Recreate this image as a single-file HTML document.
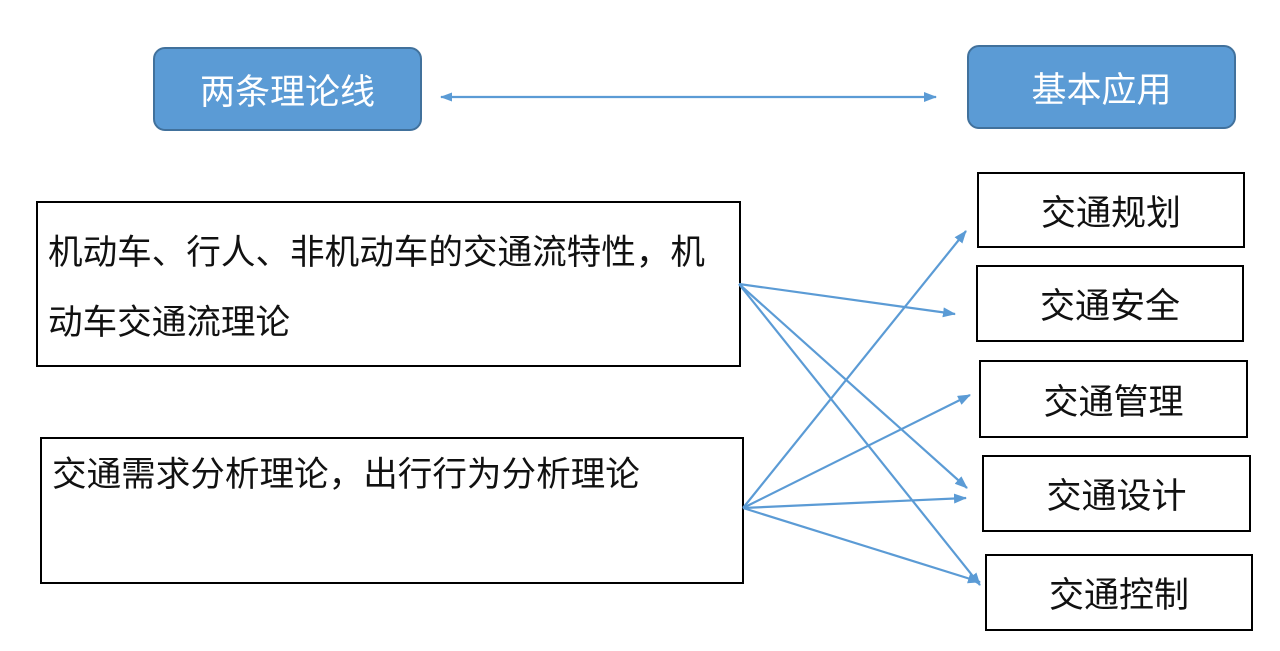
<!DOCTYPE html>
<html><head><meta charset="utf-8"><style>
body{margin:0;width:1280px;height:651px;background:#fff;position:relative;overflow:hidden;font-family:"Liberation Sans","Noto Sans CJK SC",sans-serif}
.b{position:absolute;box-sizing:border-box}
.blue{background:#5b9bd5;border:2px solid #41719c;border-radius:12px;color:#fff;font-size:35px;display:flex;align-items:center;justify-content:center}
.r{border:2px solid #000;font-size:35px;display:flex;align-items:center;justify-content:center;color:#111}
.l{border:2px solid #000;font-size:34.6px;color:#111;line-height:70px;padding:15px 0 0 10px}
</style></head><body>
<div class="b blue" style="left:153px;top:47px;width:269px;height:84px">两条理论线</div>
<div class="b blue" style="left:967px;top:45px;width:269px;height:84px">基本应用</div>
<div class="b l" style="left:36px;top:201px;width:705px;height:166px">机动车、行人、非机动车的交通流特性，机<br>动车交通流理论</div>
<div class="b l" style="left:40px;top:437px;width:704px;height:147px;line-height:72px;padding-top:0">交通需求分析理论，出行行为分析理论</div>
<div class="b r" style="left:977px;top:172px;width:268px;height:76px">交通规划</div>
<div class="b r" style="left:976px;top:265px;width:268px;height:77px">交通安全</div>
<div class="b r" style="left:979px;top:360px;width:269px;height:78px">交通管理</div>
<div class="b r" style="left:982px;top:455px;width:269px;height:77px">交通设计</div>
<div class="b r" style="left:985px;top:554px;width:268px;height:77px">交通控制</div>
<svg width="1280" height="651" style="position:absolute;left:0;top:0">
<defs><marker id="a" markerWidth="13" markerHeight="10" refX="12" refY="5" orient="auto" markerUnits="userSpaceOnUse"><path d="M0,0L13,5L0,10z" fill="#5b9bd5"/></marker>
<marker id="s" markerWidth="12" markerHeight="9" refX="1" refY="4.5" orient="auto" markerUnits="userSpaceOnUse"><path d="M12,0L0,4.5L12,9z" fill="#5b9bd5"/></marker></defs>
<g stroke="#5b9bd5" stroke-width="2.2" fill="none" marker-end="url(#a)">
<line x1="441" y1="97" x2="936" y2="97" marker-start="url(#s)"/>
<line x1="739" y1="284" x2="955" y2="314"/>
<line x1="739" y1="284" x2="967" y2="488"/>
<line x1="739" y1="284" x2="980" y2="585"/>
<line x1="743" y1="508" x2="966" y2="231"/>
<line x1="743" y1="508" x2="970" y2="395"/>
<line x1="743" y1="508" x2="966" y2="498"/>
<line x1="743" y1="508" x2="980" y2="582"/>
</g></svg>
</body></html>
